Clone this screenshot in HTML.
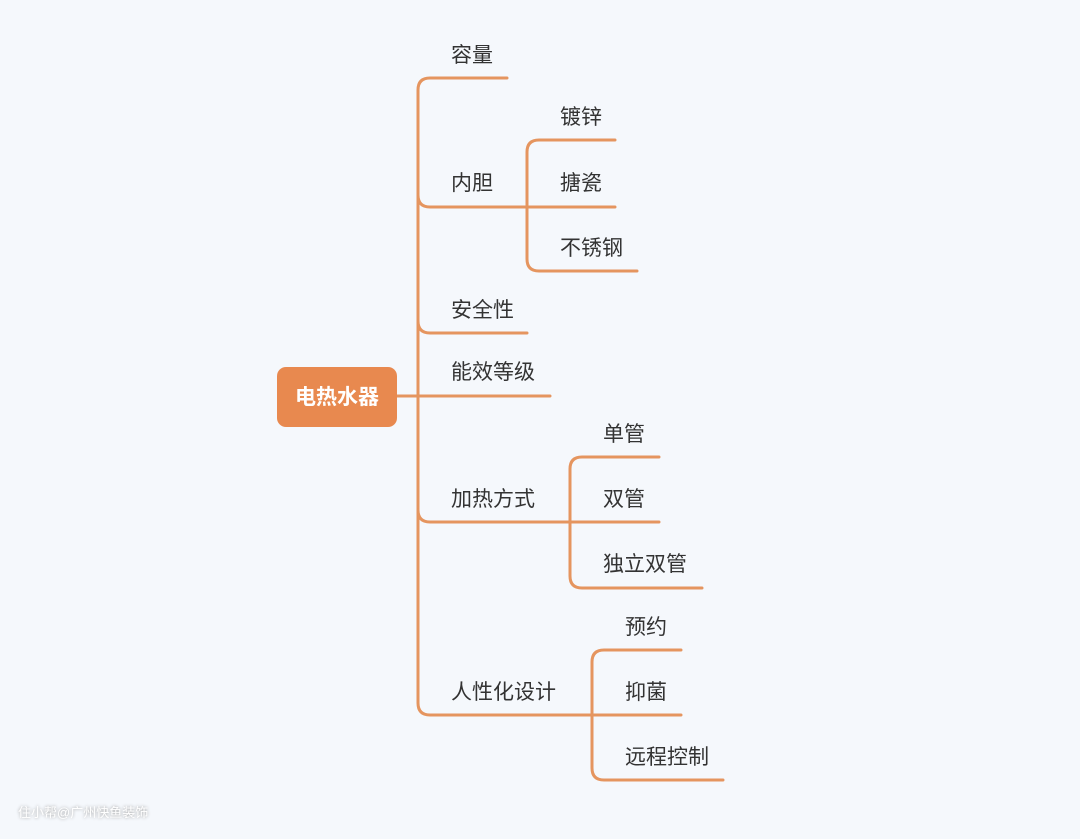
<!DOCTYPE html>
<html><head><meta charset="utf-8"><style>
html,body{margin:0;padding:0;}
body{width:1080px;height:839px;background:#f5f8fc;position:relative;overflow:hidden;font-family:"Liberation Sans","Noto Sans CJK SC",sans-serif;}
.t{position:absolute;font-size:21px;color:#333;line-height:1;white-space:nowrap;margin-top:1px;}
.c{position:absolute;left:277px;top:367px;width:120px;height:60px;background:#e8894f;border-radius:9px;color:#fff;font-size:21px;font-weight:bold;text-align:center;line-height:62px;}
.w{position:absolute;left:18px;top:802px;font-size:13px;color:#fff;text-shadow:0 0 3px #999;}
</style></head><body>
<svg width="1080" height="839" style="position:absolute;left:0;top:0" fill="none" stroke="#e5955f" stroke-width="3" stroke-linecap="round">
<path d="M397 396 H507"/>
<path d="M507 78 H430 Q418 78 418 90 V703 Q418 715 430 715 H592"/>
<path d="M418 195 Q418 207 430 207 H615"/>
<path d="M418 321 Q418 333 430 333 H527"/>
<path d="M418 396 H550"/>
<path d="M418 510 Q418 522 430 522 H659"/>
<path d="M615 140 H539 Q527 140 527 152 V259 Q527 271 539 271 H637"/>
<path d="M659 457 H582 Q570 457 570 469 V576 Q570 588 582 588 H702"/>
<path d="M681 650 H604 Q592 650 592 662 V768 Q592 780 604 780 H723"/>
<path d="M592 715 H681"/>
</svg>
<div class="c">电热水器</div>
<div class="t" style="left:451px;top:44px">容量</div>
<div class="t" style="left:451px;top:172px">内胆</div>
<div class="t" style="left:560px;top:106px">镀锌</div>
<div class="t" style="left:560px;top:172px">搪瓷</div>
<div class="t" style="left:560px;top:237px">不锈钢</div>
<div class="t" style="left:451px;top:299px">安全性</div>
<div class="t" style="left:451px;top:361px">能效等级</div>
<div class="t" style="left:451px;top:488px">加热方式</div>
<div class="t" style="left:603px;top:423px">单管</div>
<div class="t" style="left:603px;top:488px">双管</div>
<div class="t" style="left:603px;top:553px">独立双管</div>
<div class="t" style="left:451px;top:681px">人性化设计</div>
<div class="t" style="left:625px;top:616px">预约</div>
<div class="t" style="left:625px;top:681px">抑菌</div>
<div class="t" style="left:625px;top:746px">远程控制</div>
<div class="w">住小帮@广州快鱼装饰</div>
</body></html>
